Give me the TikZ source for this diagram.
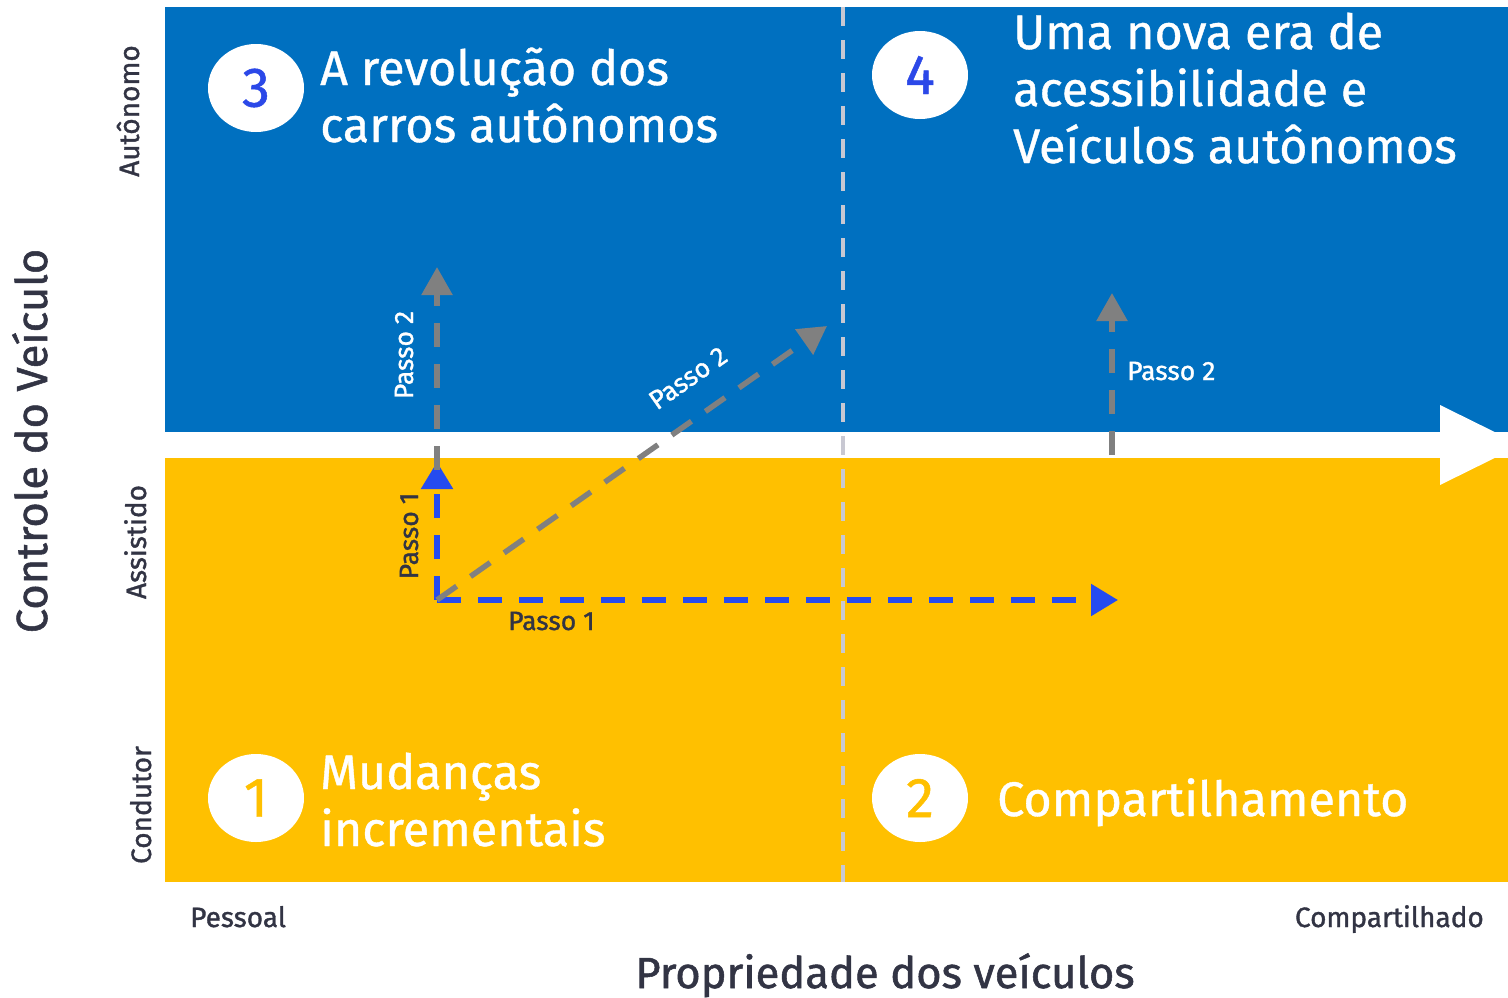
\documentclass[tikz,border=0pt]{standalone}
\usepackage{fontspec}
\setmainfont{Fira Sans}
\newfontfamily\medfont[FakeBold=0.8]{Fira Sans}
\newfontfamily\semifont[FakeBold=1.2]{Fira Sans}
\usetikzlibrary{arrows.meta,shapes.geometric}
\definecolor{qblue}{RGB}{0,112,192}
\definecolor{qyellow}{RGB}{255,192,0}
\definecolor{arrblue}{RGB}{37,75,240}
\definecolor{numblue}{RGB}{43,72,232}
\definecolor{arrgray}{RGB}{128,128,128}
\definecolor{divgray}{RGB}{200,200,210}
\definecolor{darktext}{RGB}{50,52,68}
\begin{document}
\begin{tikzpicture}[x=1pt,y=-1pt,
  title/.style={text=white, font=\medfont\fontsize{48.5}{57}\selectfont, anchor=base west, inner sep=0pt},
  numcirc/.style={ellipse, fill=white, minimum width=96pt, minimum height=88pt, inner sep=0pt, font=\medfont\fontsize{56}{56}\selectfont},
  axistitle/.style={text=darktext, font=\semifont\fontsize{43.5}{43.5}\selectfont, inner sep=0pt, anchor=base},
  axislabel/.style={text=darktext, font=\semifont\fontsize{28}{28}\selectfont, inner sep=0pt},
  passo/.style={font=\semifont\fontsize{26.5}{26.5}\selectfont, inner sep=0pt},
  bluestep/.style={draw=arrblue, line width=5.5pt, dash pattern=on 24pt off 17pt, -{Triangle[length=27pt,width=31pt]}},
  graystep/.style={draw=arrgray, line width=5.5pt, dash pattern=on 24pt off 17pt, -{Triangle[length=28pt,width=30pt]}},
]
\useasboundingbox (0,0) rectangle (1508,997);
\begin{scope}
\clip (0,0) rectangle (1508,997);
% quadrants
\fill[qblue] (165,7) rectangle (1508,432);
\fill[qyellow] (165,458) rectangle (1508,882);
% big white arrow head
\fill[white] (1440,405) -- (1521,445) -- (1440,485) -- cycle;
\end{scope}
% divider
\coordinate (dtop) at (843,7);
\coordinate (dbot) at (843,882);
\draw[divgray, line width=4.5pt, dash pattern=on 19pt off 14pt] (dtop) -- (dbot);

% circles with numbers
\node[numcirc, text=numblue] (c3) at (256,88) {3};
\node[numcirc, text=numblue] (c4) at (920,75) {4};
\node[numcirc, text=qyellow] (c1) at (256,798) {1};
\node[numcirc, text=qyellow] (c2) at (920,798) {2};

% titles
\node[title] (t3a) at (320,85) {A revolução dos};
\node[title] (t3b) at (320,142) {carros autônomos};
\node[title] (t4a) at (1013,49) {Uma nova era de};
\node[title] (t4b) at (1013,106) {acessibilidade e};
\node[title] (t4c) at (1013,163) {Veículos autônomos};
\node[title] (t1a) at (320,789) {Mudanças};
\node[title] (t1b) at (320,846) {incrementais};
\node[title] (t2) at (997,816) {Compartilhamento};

% axis labels
\node[axistitle, rotate=90] (ylab) at (47,441) {Controle do Veículo};
\node[axistitle] (xlab) at (885,988) {Propriedade dos veículos};
\node[axislabel, rotate=90, anchor=base] (aut) at (139,111) {Autônomo};
\node[axislabel, rotate=90, anchor=base] (ass) at (146,542) {Assistido};
\node[axislabel, rotate=90, anchor=base] (con) at (151,805) {Condutor};
\node[axislabel, anchor=base west] (pes) at (190,927) {Pessoal};
\node[axislabel, anchor=base east] (com) at (1484,927) {Compartilhado};

% step arrows
\coordinate (o) at (437,600);
\coordinate (b1h) at (1118,600);
\coordinate (b1v) at (437,462);
\coordinate (g2s) at (437,470);
\coordinate (g2v) at (437,267);
\coordinate (g2d) at (827,326);
\coordinate (g2rs) at (1112,455);
\coordinate (g2r) at (1112,293);
\draw[bluestep] (o) -- (b1h);
\draw[bluestep] (o) -- (b1v);
\draw[graystep] (g2s) -- (g2v);
\draw[graystep] (o) -- (g2d);
\draw[graystep] (g2rs) -- (g2r);

% step labels
\node[passo, text=darktext, anchor=base west] (p1h) at (508,630) {Passo 1};
\node[passo, text=darktext, rotate=90, anchor=base] (p1v) at (418,536) {Passo 1};
\node[passo, text=white, rotate=90, anchor=base] (p2v) at (413,355) {Passo 2};
\node[passo, text=white, rotate=35] (p2d) at (688,378) {Passo 2};
\node[passo, text=white, anchor=base west] (p2r) at (1127,380) {Passo 2};
\end{tikzpicture}
\end{document}
